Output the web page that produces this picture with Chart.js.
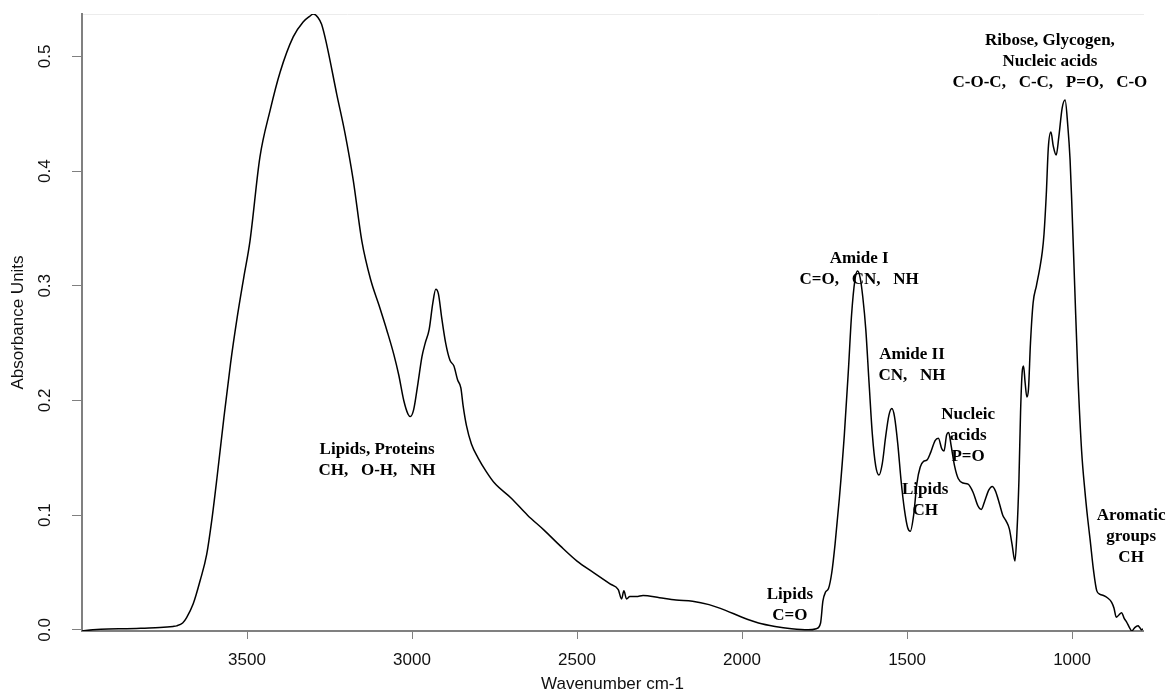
<!DOCTYPE html>
<html lang="en">
<head>
<meta charset="UTF-8">
<title>FTIR spectrum</title>
<script src="https://cdn.jsdelivr.net/npm/chart.js"></script>
<style>
  html, body { margin: 0; padding: 0; background: #fff; }
  #wrap { width: 1167px; height: 691px; }
</style>
</head>
<body>
<div id="wrap"><canvas id="spectrum" width="1167" height="691"></canvas></div>
<script>
// spectrum (wavenumber cm-1, absorbance units)
const wavenumber = [
  4000, 3967, 3920, 3865, 3810, 3764, 3724, 3713, 3695, 3683, 3663, 3642, 3622, 3607, 3590, 3570, 3550, 3530, 3510, 3491,
  3461, 3430, 3400, 3360, 3330, 3310, 3299, 3285, 3274, 3259, 3228, 3203, 3178, 3152, 3125, 3100, 3075, 3055, 3040, 3025,
  3012, 3005, 2995, 2982, 2970, 2960, 2948, 2937, 2928, 2920, 2910, 2898, 2885, 2873, 2862, 2852, 2845, 2835, 2820, 2800,
  2775, 2750, 2700, 2650, 2600, 2550, 2500, 2450, 2400, 2375, 2365, 2358, 2350, 2340, 2320, 2300, 2250, 2200, 2150, 2100,
  2050, 2000, 1950, 1900, 1850, 1800, 1775, 1762, 1755, 1747, 1738, 1728, 1718, 1705, 1690, 1678, 1668, 1658, 1650, 1642,
  1634, 1625, 1615, 1605, 1595, 1585, 1575, 1565, 1555, 1546, 1538, 1528, 1518, 1508, 1498, 1490, 1480, 1470, 1460, 1450,
  1440, 1428, 1415, 1405, 1395, 1388, 1380, 1374, 1366, 1356, 1345, 1330, 1315, 1300, 1285, 1275, 1265, 1252, 1242, 1232,
  1220, 1210, 1200, 1190, 1182, 1173, 1167, 1161, 1156, 1151, 1147, 1142, 1137, 1132, 1126, 1118, 1108, 1098, 1090, 1085,
  1078, 1072, 1064, 1057, 1048, 1040, 1030, 1021, 1013, 1006, 1001, 992, 982, 971, 961, 953, 945, 935, 925, 915,
  905, 893, 880, 873, 866, 858, 850, 842, 835, 826, 819, 810, 800, 795, 789, 785
];
const absorbance = [
  -0.001, 0.000, 0.0008, 0.001, 0.0015, 0.002, 0.003, 0.0035, 0.006, 0.0107, 0.0227, 0.043, 0.066, 0.095, 0.135, 0.185, 0.232, 0.272, 0.307, 0.339,
  0.412, 0.453, 0.486, 0.517, 0.530, 0.535, 0.537, 0.534, 0.528, 0.511, 0.467, 0.433, 0.392, 0.339, 0.305, 0.283, 0.260, 0.240, 0.222, 0.200,
  0.188, 0.186, 0.192, 0.215, 0.238, 0.250, 0.262, 0.285, 0.297, 0.293, 0.272, 0.250, 0.235, 0.230, 0.218, 0.211, 0.195, 0.178, 0.162, 0.150,
  0.138, 0.128, 0.115, 0.100, 0.087, 0.073, 0.060, 0.050, 0.040, 0.035, 0.027, 0.034, 0.027, 0.029, 0.029, 0.030, 0.028, 0.026, 0.025, 0.022,
  0.017, 0.011, 0.006, 0.003, 0.001, 0.000, 0.001, 0.006, 0.025, 0.033, 0.036, 0.050, 0.075, 0.115, 0.170, 0.225, 0.275, 0.305, 0.313, 0.307,
  0.290, 0.262, 0.215, 0.170, 0.143, 0.135, 0.145, 0.168, 0.187, 0.193, 0.186, 0.162, 0.130, 0.105, 0.089, 0.086, 0.100, 0.128, 0.142, 0.147,
  0.148, 0.155, 0.165, 0.167, 0.158, 0.156, 0.170, 0.172, 0.160, 0.143, 0.132, 0.128, 0.127, 0.120, 0.108, 0.105, 0.112, 0.122, 0.125, 0.121,
  0.110, 0.100, 0.095, 0.088, 0.075, 0.060, 0.085, 0.130, 0.190, 0.225, 0.230, 0.215, 0.203, 0.210, 0.250, 0.285, 0.300, 0.315, 0.330, 0.345,
  0.380, 0.420, 0.434, 0.422, 0.414, 0.430, 0.455, 0.462, 0.440, 0.410, 0.374, 0.300, 0.220, 0.156, 0.121, 0.098, 0.078, 0.052, 0.034, 0.031,
  0.030, 0.028, 0.024, 0.019, 0.011, 0.013, 0.015, 0.010, 0.007, 0.002, -0.001, 0.002, 0.0035, 0.002, 0.000, 0.001
];

const xTicks = [3500, 3000, 2500, 2000, 1500, 1000];
const yTicks = [0, 0.1, 0.2, 0.3, 0.4, 0.5];

// band labels, anchored at (wavenumber, absorbance) of the first line
const notes = [
  { wn: 3106, abs: 0.157, lines: ['Lipids, Proteins', 'CH,   O-H,   NH'] },
  { wn: 1855, abs: 0.031, lines: ['Lipids', 'C=O'] },
  { wn: 1645, abs: 0.324, lines: ['Amide I', 'C=O,   CN,   NH'] },
  { wn: 1485, abs: 0.240, lines: ['Amide II', 'CN,   NH'] },
  { wn: 1445, abs: 0.122, lines: ['Lipids', 'CH'] },
  { wn: 1315, abs: 0.188, lines: ['Nucleic', 'acids', 'P=O'] },
  { wn: 1067, abs: 0.5135, lines: ['Ribose, Glycogen,', 'Nucleic acids', 'C-O-C,   C-C,   P=O,   C-O'] },
  { wn: 821, abs: 0.100, lines: ['Aromatic', 'groups', 'CH'] }
];

const notePlugin = {
  id: 'notes',
  afterDatasetsDraw(chart) {
    const { ctx, scales: { x, y } } = chart;
    ctx.save();
    ctx.font = 'bold 17px "Liberation Serif"';
    ctx.fillStyle = '#000';
    ctx.textAlign = 'center';
    ctx.textBaseline = 'middle';
    notes.forEach(n => {
      const px = x.getPixelForValue(n.wn);
      const py = y.getPixelForValue(n.abs);
      n.lines.forEach((t, i) => ctx.fillText(t, px, py + i * 21));
    });
    ctx.restore();
  }
};

const axisFont = { family: 'Liberation Sans', size: 17 };
const axisGrey = '#808080';

new Chart(document.getElementById('spectrum'), {
  type: 'line',
  data: {
    datasets: [{
      data: wavenumber.map((w, i) => ({ x: w, y: absorbance[i] })),
      borderColor: '#000',
      borderWidth: 1.5,
      pointRadius: 0,
      fill: false,
      cubicInterpolationMode: 'monotone'
    }]
  },
  options: {
    responsive: false,
    animation: false,
    devicePixelRatio: 1,
    layout: { padding: { top: 14, right: 24, left: 0, bottom: 0 } },
    plugins: { legend: { display: false }, tooltip: { enabled: false } },
    scales: {
      x: {
        type: 'linear',
        reverse: true,
        min: 785,
        max: 4000,
        afterBuildTicks: s => { s.ticks = xTicks.map(v => ({ value: v })); },
        afterFit: s => { s.height = 60; },
        grid: { drawOnChartArea: false, tickLength: 8, color: axisGrey, lineWidth: 1 },
        border: { color: axisGrey, width: 2 },
        ticks: { padding: 11, color: '#111', font: axisFont, maxRotation: 0, autoSkip: false, callback: v => String(v) },
        title: { display: true, text: 'Wavenumber cm-1', color: '#111', font: { ...axisFont, lineHeight: 1 }, padding: { top: 0, bottom: -2 } }
      },
      xTop: {
        type: 'linear',
        position: 'top',
        reverse: true,
        min: 785,
        max: 4000,
        ticks: { display: false },
        grid: { display: false },
        border: { color: '#ececec', width: 1 },
        afterFit: s => { s.height = 0; }
      },
      y: {
        min: -0.001,
        max: 0.537,
        afterBuildTicks: s => { s.ticks = yTicks.map(v => ({ value: v })); },
        afterFit: s => { s.width = 82; s.paddingTop = 0; s.paddingBottom = 0; },
        grid: { drawOnChartArea: false, tickLength: 10, color: axisGrey, lineWidth: 1 },
        border: { color: axisGrey, width: 2 },
        ticks: { minRotation: 90, maxRotation: 90, crossAlign: 'center', padding: 15, color: '#111', font: axisFont, callback: v => v.toFixed(1) },
        title: { display: true, text: 'Absorbance Units', color: '#111', font: axisFont, padding: { top: 8, bottom: 0 } }
      }
    }
  },
  plugins: [notePlugin]
});
</script>
</body>
</html>
